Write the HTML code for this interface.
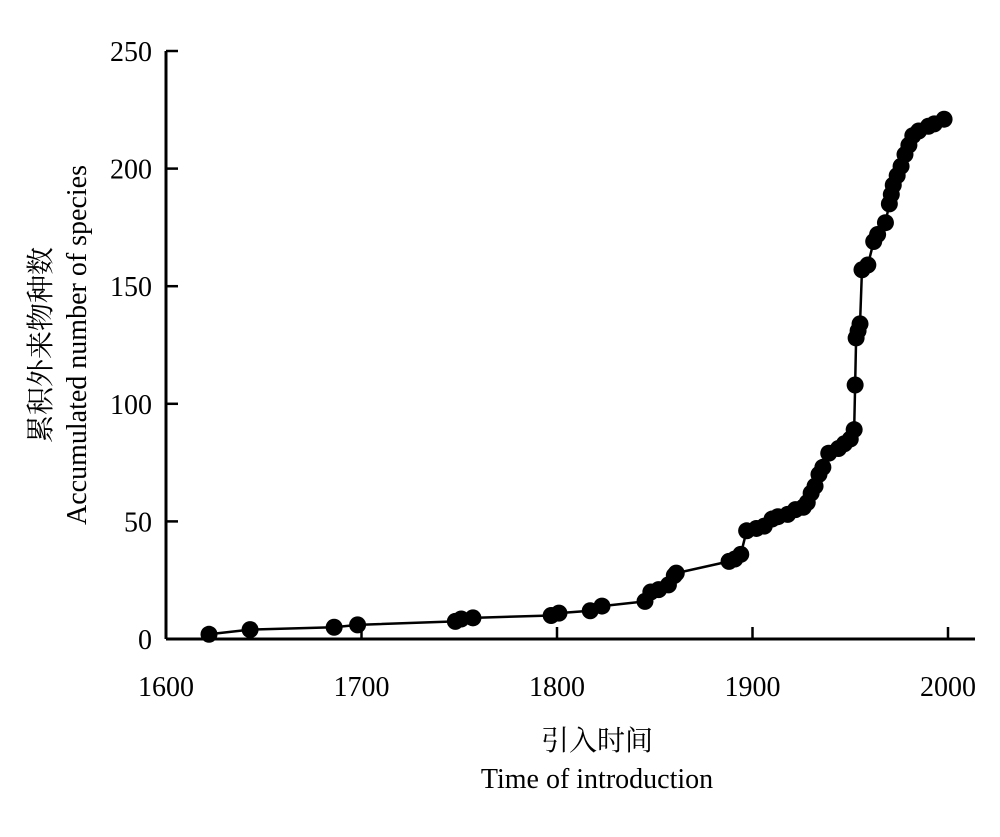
<!DOCTYPE html>
<html><head><meta charset="utf-8"><style>
body{margin:0;background:#fff}
svg text{font-family:"Liberation Serif","Noto Serif CJK SC",serif;fill:#000}
</style></head><body>
<svg width="1000" height="832">
<g id="axes"></g><g id="plot"></g>
<text transform="translate(50,345) rotate(-90)" text-anchor="middle" font-size="28">累积外来物种数</text>
<text transform="translate(86,345) rotate(-90)" text-anchor="middle" font-size="28">Accumulated number of species</text>
<text x="597" y="750" text-anchor="middle" font-size="28">引入时间</text>
<text x="597" y="788" text-anchor="middle" font-size="28">Time of introduction</text>
</svg>
<script>
const years=[1622,1643,1686,1698,1748,1751,1757,1797,1801,1817,1823,1845,1848,1852,1857,1860,1861,1888,1891,1894,1897,1902,1906,1910,1913,1918,1922,1926,1928,1930,1932,1934,1936,1939,1944,1947,1950,1952,1952.5,1953,1954,1955,1956,1959,1962,1964,1968,1970,1971,1972,1974,1976,1978,1980,1982,1985,1990,1993,1998];
const counts=[2,4,5,6,7.5,8.5,9,10,11,12,14,16,20,21,23,27,28,33,34,36,46,47,48,51,52,53,55,56,58,62,65,70,73,79,81,83,85,89,108,128,131,134,157,159,169,172,177,185,189,193,197,201,206,210,214,216,218,219,221];
const xTicks=[1600,1700,1800,1900,2000];
const yTicks=[0,50,100,150,200,250];
const NS="http://www.w3.org/2000/svg";
const X=v=>166+(v-1600)*1.955, Y=v=>639-v*2.352;
function mk(p,t,a){const e=document.createElementNS(NS,t);for(const k in a)e.setAttribute(k,a[k]);p.appendChild(e);return e;}
const ax=document.getElementById('axes'), pl=document.getElementById('plot');
let e=mk(ax,'line',{x1:166,y1:Y(250),x2:166,y2:639,stroke:'#000','stroke-width':3});


e=mk(ax,'line',{x1:166,y1:639,x2:975,y2:639,stroke:'#000','stroke-width':3});


yTicks.forEach(t=>{
 let l=mk(ax,'line',{x1:166,x2:178,y1:Y(t),y2:Y(t),stroke:'#000','stroke-width':2.5});
 
 
 let tx=mk(ax,'text',{x:152,y:Y(t)+10,'text-anchor':'end','font-size':28});tx.textContent=t;
 
 
});
xTicks.forEach(t=>{
 if(t>1600){let l=mk(ax,'line',{x1:X(t),x2:X(t),y1:627,y2:639,stroke:'#000','stroke-width':2.5});
 
 }
 let tx=mk(ax,'text',{x:X(t),y:696,'text-anchor':'middle','font-size':28});tx.textContent=t;
 
 
});
const line=mk(pl,'polyline',{points:years.map((y,i)=>X(y)+','+Y(counts[i])).join(' '),fill:'none',stroke:'#000','stroke-width':2.5});


years.forEach((y,i)=>{
 const c=mk(pl,'circle',{cx:X(y),cy:Y(counts[i]),r:8.5,fill:'#000'});
 
 
});
</script>
</body></html>
